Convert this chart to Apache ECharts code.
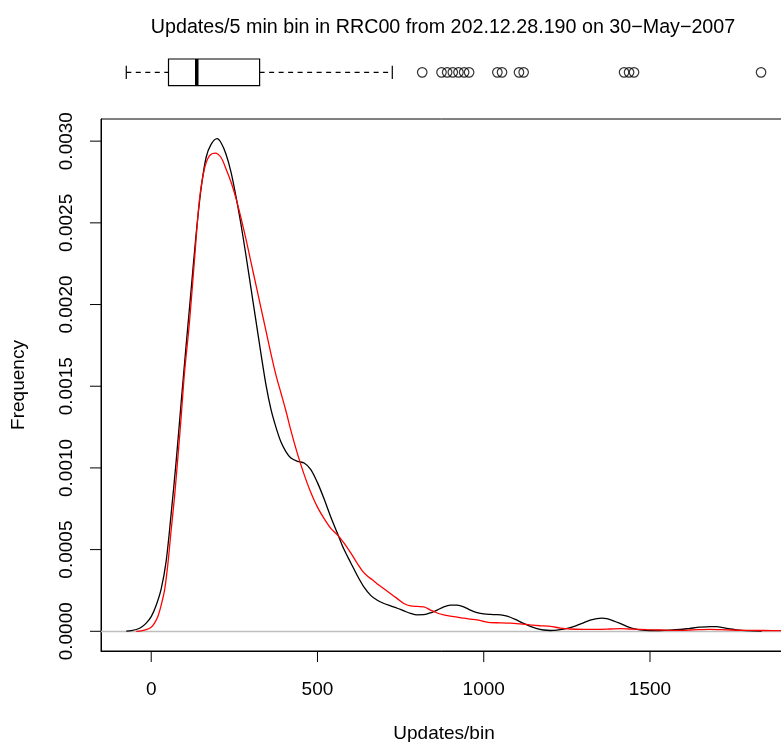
<!DOCTYPE html>
<html>
<head>
<meta charset="utf-8">
<script src="https://cdn.jsdelivr.net/npm/echarts@6/dist/echarts.min.js"></script>
<style>
html,body{margin:0;padding:0;background:#fff;}
#chart{width:781px;height:742px;}
</style>
</head>
<body>
<div id="chart"></div>
<script>
// ---- data ----
const TITLE = 'Updates/5 min bin in RRC00 from 202.12.28.190 on 30\u2212May\u22122007';
const X_LABEL = 'Updates/bin';
const Y_LABEL = 'Frequency';
const X_TICKS = [0, 500, 1000, 1500];
const Y_TICKS = [0, 0.0005, 0.001, 0.0015, 0.002, 0.0025, 0.003];

// black density curve
const BLACK_X = [-75,-60,-45,-30,-15,0,15,30,45,60,75,90,105,120,135,150,165,180,198,210,225,240,255,270,285,300,315,330,345,360,375,390,405,420,440,460,480,500,520,540,560,580,600,620,640,660,680,700,720,740,760,780,800,820,840,860,880,900,920,940,960,980,1000,1020,1040,1060,1080,1100,1120,1140,1160,1180,1200,1220,1240,1260,1280,1300,1320,1340,1355,1370,1390,1410,1430,1450,1470,1500,1530,1560,1590,1620,1650,1680,1700,1720,1740,1760,1790,1836];
const BLACK_Y = [0.000001,0.000004,0.000011,0.000025,0.00005,0.00009,0.00016,0.00026,0.00043,0.00072,0.00104,0.0014,0.00175,0.00209,0.00243,0.00271,0.0029,0.00298,0.003015,0.00299,0.00292,0.00281,0.00266,0.00249,0.0023,0.0021,0.0019,0.0017,0.00151,0.00136,0.00125,0.00116,0.0011,0.00106,0.00104,0.00103,0.00099,0.00091,0.00081,0.0007,0.0006,0.0005,0.00042,0.00034,0.00027,0.00022,0.00019,0.00017,0.000155,0.000141,0.000125,0.00011,0.000101,0.000102,0.000113,0.00013,0.00015,0.00016,0.00016,0.00015,0.00013,0.000115,0.000106,0.000103,0.000102,0.000097,0.000086,0.000068,0.000048,0.00003,0.000016,0.000008,0.000005,0.000007,0.000013,0.000022,0.000036,0.000052,0.000068,0.000078,0.000081,0.000077,0.000064,0.000048,0.00003,0.000017,0.000009,0.000005,0.000005,0.000007,0.000011,0.000018,0.000025,0.000029,0.000028,0.000022,0.000015,0.000009,0.000004,0.000001];

// red density curve
const RED_X = [-45,-30,-15,0,10,20,30,40,50,60,70,80,90,100,115,130,145,160,175,193,210,225,240,255,270,285,300,315,330,345,360,375,390,405,420,435,450,465,480,500,520,540,560,580,600,620,635,650,665,680,700,720,740,760,780,800,820,840,860,880,900,920,940,960,980,1000,1020,1050,1080,1110,1140,1170,1200,1230,1260,1300,1340,1380,1410,1450,1490,1530,1570,1620,1680,1730,1780,1840,1912];
const RED_Y = [0,0.000003,0.00001,0.000025,0.00005,0.00009,0.00016,0.00025,0.00041,0.00062,0.00082,0.00106,0.00131,0.00158,0.00189,0.00227,0.00264,0.00283,0.00291,0.002927,0.0029,0.00283,0.00275,0.00265,0.00253,0.0024,0.00226,0.00212,0.00198,0.00184,0.0017,0.00157,0.00146,0.00135,0.00123,0.00112,0.00102,0.00093,0.00085,0.00076,0.00069,0.00063,0.00059,0.00054,0.00048,0.000415,0.00037,0.000338,0.000315,0.00029,0.00026,0.00023,0.0002,0.00017,0.000155,0.000152,0.00015,0.00013,0.000112,0.0001,0.000093,0.000087,0.00008,0.000075,0.00007,0.00006,0.000053,0.000052,0.00005,0.000045,0.000039,0.000034,0.00003,0.00002,0.000014,0.000012,0.000012,0.000014,0.000016,0.000013,0.00001,0.000008,0.000006,0.000008,0.000012,0.000009,0.000006,0.000005,0.000004];

// boxplot: [lower whisker, Q1, median, Q3, upper whisker]
const BOX_STATS = [-75, 52, 137, 326, 725];
const OUTLIERS = [815, 873, 890, 907, 924, 941, 956, 1041, 1055, 1106, 1120, 1422, 1437, 1452, 1834];

// ---- chart ----
const FONT = 'Liberation Sans, Arial, Helvetica, sans-serif';
const FS = 19;
const TICK_LEN = 11;
const X_MIN = -151, X_MAX = 1912;
const Y_MIN = -0.0001206, Y_MAX = 0.0031356;

const zip = (xs, ys) => xs.map((x, i) => [x, ys[i]]);

const chart = echarts.init(document.getElementById('chart'), null, {renderer: 'canvas'});

const tickStyle = {stroke: '#000', lineWidth: 1};

const option = {
  backgroundColor: '#ffffff',
  animation: false,
  textStyle: {fontFamily: FONT},
  graphic: [{
    type: 'text',
    x: 443, y: 28,
    style: {
      text: TITLE,
      font: '19.7px ' + FONT,
      fill: '#000',
      textAlign: 'center',
      textVerticalAlign: 'middle'
    }
  }],
  grid: [
    {left: 101, top: 119, width: 686, height: 532, show: true, borderColor: '#000', borderWidth: 1,
      backgroundColor: 'transparent', containLabel: false, outerBoundsMode: 'none'},
    {left: 101, top: 59, width: 686, height: 26.7, show: false, containLabel: false, outerBoundsMode: 'none'}
  ],
  xAxis: [
    {
      type: 'value', gridIndex: 0, min: X_MIN, max: X_MAX,
      name: X_LABEL, nameLocation: 'middle', nameGap: 73,
      nameTextStyle: {fontSize: FS, color: '#000', fontFamily: FONT},
      axisLine: {show: true, onZero: false, lineStyle: {color: '#000', width: 1}},
      axisTick: {show: false},
      axisLabel: {show: true, customValues: X_TICKS, fontSize: FS, color: '#000', fontFamily: FONT, margin: 29,
        formatter: v => String(v)},
      splitLine: {show: false}
    },
    {
      type: 'value', gridIndex: 1, min: X_MIN, max: X_MAX, show: false,
      splitLine: {show: false}
    }
  ],
  yAxis: [
    {
      type: 'value', gridIndex: 0, min: Y_MIN, max: Y_MAX,
      name: Y_LABEL, nameLocation: 'middle', nameGap: 73, nameRotate: 90,
      nameTextStyle: {fontSize: FS, color: '#000', fontFamily: FONT},
      axisLine: {show: true, onZero: false, lineStyle: {color: '#000', width: 1}},
      axisTick: {show: false},
      axisLabel: {show: true, customValues: Y_TICKS, rotate: 90, fontSize: FS, color: '#000', fontFamily: FONT, margin: 25,
        formatter: v => Number(v).toFixed(4)},
      splitLine: {show: false}
    },
    {
      type: 'value', gridIndex: 1, min: -1, max: 1, show: false, splitLine: {show: false}
    }
  ],
  series: [
    // x-axis ticks (outward from the bottom of the frame)
    {
      type: 'custom', xAxisIndex: 0, yAxisIndex: 0, clip: false, silent: true,
      data: X_TICKS.map(v => [v]),
      renderItem: function (params, api) {
        const p = api.coord([api.value(0), Y_MIN]);
        return {type: 'line', shape: {x1: p[0], y1: p[1], x2: p[0], y2: p[1] + TICK_LEN}, style: tickStyle};
      }
    },
    // y-axis ticks (outward from the left of the frame)
    {
      type: 'custom', xAxisIndex: 0, yAxisIndex: 0, clip: false, silent: true,
      data: Y_TICKS.map(v => [X_MIN, v]),
      encode: {x: 0, y: 1},
      renderItem: function (params, api) {
        const p = api.coord([X_MIN, api.value(1)]);
        return {type: 'line', shape: {x1: p[0], y1: p[1], x2: p[0] - TICK_LEN, y2: p[1]}, style: tickStyle};
      }
    },
    {
      type: 'line', xAxisIndex: 0, yAxisIndex: 0,
      data: zip(BLACK_X, BLACK_Y),
      showSymbol: false, smooth: 0.3,
      lineStyle: {color: '#000', width: 1.3},
      z: 3,
      markLine: {
        silent: true, symbol: ['none', 'none'], label: {show: false},
        lineStyle: {color: '#BEBEBE', type: 'solid', width: 1.3},
        data: [{yAxis: 0}],
        z: 1
      }
    },
    {
      type: 'line', xAxisIndex: 0, yAxisIndex: 0,
      data: zip(RED_X, RED_Y),
      showSymbol: false, smooth: 0.3,
      lineStyle: {color: '#FF0000', width: 1.3},
      z: 4
    },
    {
      type: 'custom', xAxisIndex: 1, yAxisIndex: 1,
      data: [BOX_STATS],
      renderItem: function (params, api) {
        const lo = api.coord([api.value(0), 0])[0];
        const q1 = api.coord([api.value(1), 0])[0];
        const md = api.coord([api.value(2), 0])[0];
        const q3 = api.coord([api.value(3), 0])[0];
        const hi = api.coord([api.value(4), 0])[0];
        const yT = api.coord([0, 1])[1];
        const yB = api.coord([0, -1])[1];
        const yC = api.coord([0, 0])[1];
        const sT = api.coord([0, 0.5])[1];
        const sB = api.coord([0, -0.5])[1];
        const st = {stroke: '#000', lineWidth: 1.2, fill: null};
        const dash = {stroke: '#000', lineWidth: 1.2, lineDash: [5, 4.5], fill: null};
        return {
          type: 'group',
          children: [
            {type: 'line', shape: {x1: lo, y1: yC, x2: q1, y2: yC}, style: dash},
            {type: 'line', shape: {x1: q3, y1: yC, x2: hi, y2: yC}, style: dash},
            {type: 'line', shape: {x1: lo, y1: sT, x2: lo, y2: sB}, style: st},
            {type: 'line', shape: {x1: hi, y1: sT, x2: hi, y2: sB}, style: st},
            {type: 'rect', shape: {x: q1, y: yT, width: q3 - q1, height: yB - yT}, style: {stroke: '#000', lineWidth: 1.2, fill: 'transparent'}},
            {type: 'line', shape: {x1: md, y1: yT, x2: md, y2: yB}, style: {stroke: '#000', lineWidth: 3.5}}
          ]
        };
      }
    },
    {
      type: 'scatter', xAxisIndex: 1, yAxisIndex: 1,
      data: OUTLIERS.map(v => [v, 0]),
      symbol: 'circle', symbolSize: 9.5,
      itemStyle: {color: 'transparent', borderColor: '#000', borderWidth: 1.2}
    }
  ]
};
chart.setOption(option);
</script>
</body>
</html>
